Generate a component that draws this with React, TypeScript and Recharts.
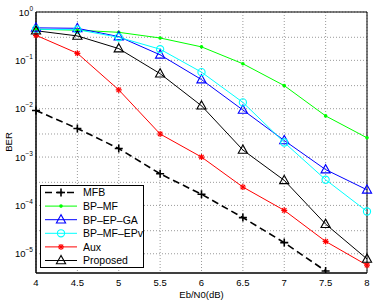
import React from 'react';
import { LineChart, Line, XAxis, YAxis, CartesianGrid, ReferenceArea } from 'recharts';

const snr = [4, 4.5, 5, 5.5, 6, 6.5, 7, 7.5, 8];
const mfb = [0.0092, 0.0039, 0.0015, 4.5e-4, 1.7e-4, 5.6e-5, 1.7e-5, 4.4e-6, null];
const bpMf = [0.44, 0.42, 0.38, 0.29, 0.19, 0.085, 0.03, 0.0071, 0.0025];
const bpEpGa = [0.47, 0.46, 0.31, 0.13, 0.04, 0.0094, 0.0022, 5.5e-4, 2.1e-4];
const bpMfEpv = [0.44, 0.43, 0.3, 0.17, 0.057, 0.0135, 0.002, 3.4e-4, 7.5e-5];
const aux = [0.33, 0.14, 0.0245, 0.003, 0.001, 2.4e-4, 7.9e-5, 1.8e-5, 5.8e-6];
const proposed = [0.41, 0.32, 0.175, 0.053, 0.0115, 0.0014, 3.3e-4, 4.1e-5, 7.8e-6];

const xTicks = [4, 4.5, 5, 5.5, 6, 6.5, 7, 7.5, 8];
const yTicks = [1e-5, 1e-4, 1e-3, 1e-2, 1e-1, 1];
const yMin = 4e-6;

const minorY: number[] = [];
for (let k = -6; k <= 0; k++) {
  for (let m = 1; m <= 9; m++) {
    const v = m * Math.pow(10, k);
    if (v >= yMin && v <= 1) minorY.push(v);
  }
}

const data = snr.map((x, i) => ({
  x,
  mfb: mfb[i],
  bpMf: bpMf[i],
  bpEpGa: bpEpGa[i],
  bpMfEpv: bpMfEpv[i],
  aux: aux[i],
  proposed: proposed[i],
}));

const FONT = '"Liberation Sans", Arial, sans-serif';

type MarkerKind = 'plus' | 'dot' | 'tri' | 'circle' | 'star';

function Marker({ kind, cx, cy, color }: { kind: MarkerKind; cx: number; cy: number; color: string }) {
  if (kind === 'plus') {
    return (
      <g stroke={color} strokeWidth={1.6}>
        <line x1={cx - 4} y1={cy} x2={cx + 4} y2={cy} />
        <line x1={cx} y1={cy - 4} x2={cx} y2={cy + 4} />
      </g>
    );
  }
  if (kind === 'dot') return <circle cx={cx} cy={cy} r={1.8} fill={color} stroke="none" />;
  if (kind === 'tri') {
    const p = `${cx},${cy - 5} ${cx - 4.6},${cy + 3.3} ${cx + 4.6},${cy + 3.3}`;
    return <polygon points={p} fill="none" stroke={color} strokeWidth={1.1} />;
  }
  if (kind === 'circle') return <circle cx={cx} cy={cy} r={3.6} fill="none" stroke={color} strokeWidth={1.1} />;
  return (
    <g stroke={color} strokeWidth={1.2}>
      <line x1={cx - 3} y1={cy} x2={cx + 3} y2={cy} />
      <line x1={cx} y1={cy - 3} x2={cx} y2={cy + 3} />
      <line x1={cx - 2.2} y1={cy - 2.2} x2={cx + 2.2} y2={cy + 2.2} />
      <line x1={cx - 2.2} y1={cy + 2.2} x2={cx + 2.2} y2={cy - 2.2} />
    </g>
  );
}

const series = [
  { key: 'mfb', name: 'MFB', color: '#000000', marker: 'plus' as MarkerKind, dash: '7 4', width: 1.6 },
  { key: 'bpMf', name: 'BP\u2013MF', color: '#00ff00', marker: 'dot' as MarkerKind, dash: undefined, width: 1 },
  { key: 'bpEpGa', name: 'BP\u2013EP\u2013GA', color: '#0000ff', marker: 'tri' as MarkerKind, dash: undefined, width: 1 },
  { key: 'bpMfEpv', name: 'BP\u2013MF\u2013EPv', color: '#00ffff', marker: 'circle' as MarkerKind, dash: undefined, width: 1 },
  { key: 'aux', name: 'Aux', color: '#ff0000', marker: 'star' as MarkerKind, dash: undefined, width: 1 },
  { key: 'proposed', name: 'Proposed', color: '#000000', marker: 'tri' as MarkerKind, dash: undefined, width: 1 },
];

const YTick = ({ x, y, payload }: any) => {
  const exp = Math.round(Math.log10(payload.value));
  const e = exp < 0 ? '\u2212' + Math.abs(exp) : String(exp);
  return (
    <text x={x} y={y + 3.5} textAnchor="end" fontSize={9.5} fontFamily={FONT} fill="#000">
      10<tspan dy={-5} fontSize={6.5}>{e}</tspan>
    </text>
  );
};

function LegendBox() {
  const rowY = (i: number) => 7.5 + i * 13.6;
  return (
    <svg width={105} height={84} style={{ position: 'absolute', left: 40, top: 185 }}>
      <rect x={0.5} y={0.5} width={103} height={82} fill="#fff" stroke="#000" strokeWidth={1} />
      {series.map((s, i) => (
        <g key={s.key}>
          <line x1={5} y1={rowY(i)} x2={37} y2={rowY(i)} stroke={s.color} strokeWidth={s.width} strokeDasharray={s.dash} />
          <Marker kind={s.marker} cx={21} cy={rowY(i)} color={s.color} />
          <text x={43} y={rowY(i) + 3.8} fontSize={10.5} fontFamily={FONT} fill="#000">{s.name}</text>
        </g>
      ))}
    </svg>
  );
}

export default function App() {
  return (
    <div style={{ position: 'absolute', left: 0, top: 0, width: 374, height: 305, background: '#fff' }}>
      <LineChart width={374} height={305} data={data} margin={{ top: 12, right: 7, bottom: 0, left: 0 }}>
        <CartesianGrid
          stroke="#9a9a9a"
          strokeDasharray="1 2"
          horizontalValues={minorY}
          verticalValues={xTicks}
        />
        <XAxis
          dataKey="x"
          type="number"
          domain={[4, 8]}
          ticks={xTicks}
          height={32}
          tickLine={false}
          tickSize={0}
          tickMargin={6}
          stroke="#000"
          tick={{ fontSize: 9.5, fontFamily: FONT, fill: '#000' }}
          label={{ value: 'Eb/N0(dB)', position: 'insideBottom', offset: 7, fontSize: 9.5, fontFamily: FONT, fill: '#000' }}
        />
        <YAxis
          scale="log"
          domain={[yMin, 1]}
          allowDataOverflow
          ticks={yTicks}
          width={36}
          tickLine={false}
          tickSize={0}
          tickMargin={3}
          stroke="#000"
          tick={<YTick />}
        />
        <ReferenceArea x1={4} x2={8} y1={yMin} y2={1} fill="none" stroke="#000" strokeWidth={1} />
        {series.map((s) => (
          <Line
            key={s.key}
            dataKey={s.key}
            stroke={s.color}
            strokeWidth={s.width}
            strokeDasharray={s.dash}
            isAnimationActive={false}
            connectNulls={false}
            dot={(p: any) =>
              p.cx == null || p.cy == null || p.value == null ? (
                <g key={`${s.key}-${p.index}`} />
              ) : (
                <g key={`${s.key}-${p.index}`}>
                  <Marker kind={s.marker} cx={p.cx} cy={p.cy} color={s.color} />
                </g>
              )
            }
            activeDot={false}
          />
        ))}
      </LineChart>
      <div
        style={{
          position: 'absolute',
          left: 8,
          top: 142,
          transform: 'translate(-50%, -50%) rotate(-90deg)',
          fontSize: 9.5,
          fontFamily: FONT,
          color: '#000',
        }}
      >
        BER
      </div>
      <LegendBox />
    </div>
  );
}
